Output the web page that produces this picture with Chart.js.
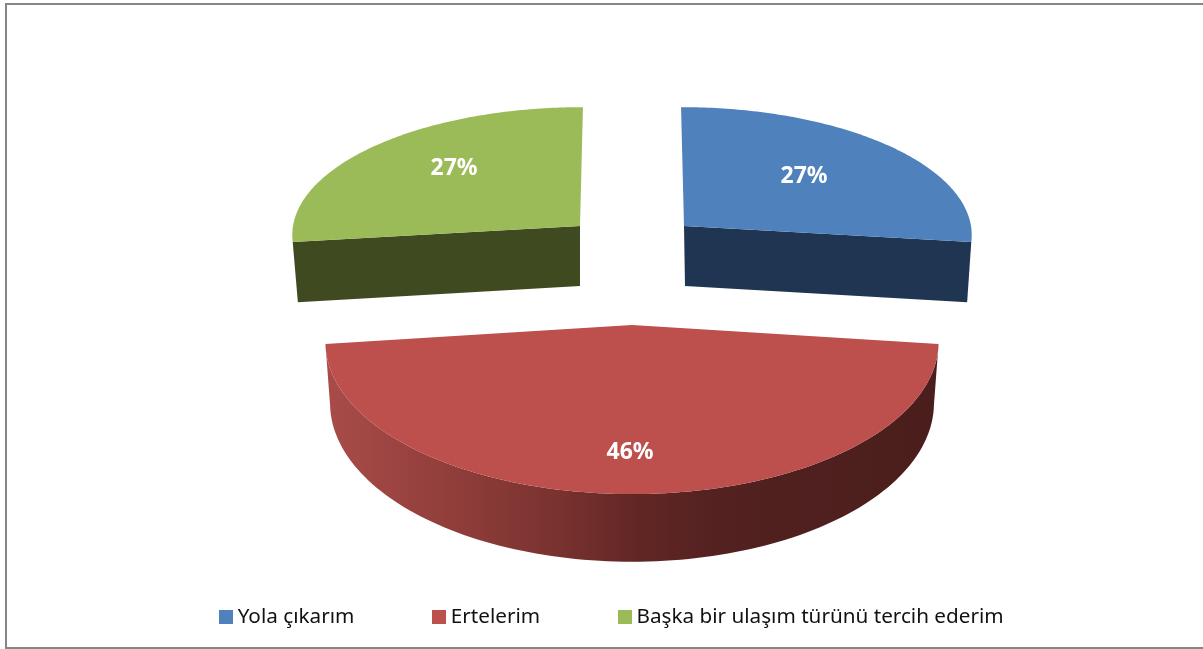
<!DOCTYPE html>
<html>
<head>
<meta charset="utf-8">
<style>html,body{margin:0;padding:0;background:#fff}canvas{display:block}</style>
<script src="https://cdn.jsdelivr.net/npm/chart.js@4/dist/chart.umd.min.js"></script>
</head>
<body>
<canvas id="c" width="1203" height="649"></canvas>
<script>
const categories = ['Yola çıkarım', 'Ertelerim', 'Başka bir ulaşım türünü tercih ederim'];
const seriesValues = [27, 46, 27];
const topColors = ['#4f81bd', '#bd4f4c', '#9bbb59'];
const sideColors = ['#1f3552', null, '#404a20'];

const vanishX = 632;
// projection of each exploded slice: apex on screen, radii, perspective strength, label offset
const sliceViews = [
  {ax: 684, ay: 226, rx: 287, ry: 126, k: 0.06, shrink: 0.982, apexShift: 1, depth: 60, label: [120, -50]},
  {ax: 632, ay: 325, rx: 304.6, ry: 150, k: 0.113, shrink: 0.985, apexShift: 0, depth: 60, label: [-2, 127]},
  {ax: 580, ay: 226, rx: 287, ry: 126, k: 0.06, shrink: 0.982, apexShift: 0, depth: 60, label: [-126, -58]}
];

function project(view, u, v, lower) {
  const w = 1 / (1 - view.k * v);
  const off = view.ax - vanishX + (lower ? view.apexShift : 0);
  const rx = view.rx * (lower ? view.shrink : 1);
  return {
    x: vanishX + (off + rx * u) * w,
    y: view.ay + view.ry * v * w + (lower ? view.depth * w : 0)
  };
}
function rimPoints(view, a0, a1, lower) {
  const pts = [], n = 120;
  for (let i = 0; i <= n; i++) {
    const a = a0 + (a1 - a0) * i / n;
    pts.push(project(view, Math.cos(a), Math.sin(a), lower));
  }
  return pts;
}
function fillPoly(ctx, pts, fill) {
  ctx.beginPath();
  pts.forEach((p, i) => i ? ctx.lineTo(p.x, p.y) : ctx.moveTo(p.x, p.y));
  ctx.closePath();
  ctx.fillStyle = fill;
  ctx.fill();
}

const pie3d = {
  id: 'pie3d',
  afterLayout(chart) {
    // seat the legend row where the reference has it
    const lg = chart.legend;
    lg.top -= 12;
    lg.bottom -= 12;
    lg.left += 13;
    lg.right += 13;
  },
  beforeDraw(chart) {
    const ctx = chart.ctx;
    ctx.save();
    ctx.fillStyle = '#fff';
    ctx.fillRect(0, 0, 1203, 649);
    ctx.strokeStyle = '#868686';
    ctx.lineWidth = 2;
    ctx.beginPath();
    ctx.moveTo(1203, 4);
    ctx.lineTo(6, 4);
    ctx.lineTo(6, 648);
    ctx.lineTo(1203, 648);
    ctx.stroke();
    ctx.restore();
  },
  beforeDatasetsDraw(chart) {
    const ctx = chart.ctx;
    const arcs = chart.getDatasetMeta(0).data;
    ctx.save();
    [0, 2, 1].forEach(i => {
      const arc = arcs[i], view = sliceViews[i];
      const a0 = arc.startAngle, a1 = arc.endAngle;
      const top = rimPoints(view, a0, a1, false);
      if (i === 1) {
        const lowerPts = rimPoints(view, a0, a1, true).reverse();
        const g = ctx.createLinearGradient(325, 0, 938, 0);
        g.addColorStop(0, '#a94c49');
        g.addColorStop(0.2, '#913e3b');
        g.addColorStop(0.37, '#7b3330');
        g.addColorStop(0.5, '#632725');
        g.addColorStop(0.65, '#522120');
        g.addColorStop(1, '#4a1e1c');
        fillPoly(ctx, top.concat(lowerPts), g);
      } else {
        const edge = i === 0 ? a1 : a0;
        const e = Math.cos(edge), f = Math.sin(edge);
        fillPoly(ctx, [project(view, 0, 0, false), project(view, e, f, false),
                       project(view, e, f, true), project(view, 0, 0, true)], sideColors[i]);
      }
      fillPoly(ctx, [project(view, 0, 0, false)].concat(top), arc.options.backgroundColor);
    });
    ctx.restore();
    return false;
  },
  afterDraw(chart) {
    const ctx = chart.ctx;
    const values = chart.data.datasets[0].data;
    const total = values.reduce((s, x) => s + x, 0);
    ctx.save();
    ctx.font = 'bold 23px "Noto Sans"';
    ctx.fillStyle = '#fff';
    ctx.textAlign = 'center';
    ctx.textBaseline = 'middle';
    values.forEach((val, i) => {
      const view = sliceViews[i];
      ctx.fillText(Math.round(val / total * 100) + '%', view.ax + view.label[0], view.ay + view.label[1]);
    });
    ctx.restore();
  }
};

function swatch(color) {
  const s = document.createElement('canvas');
  s.width = 14; s.height = 14;
  const c = s.getContext('2d');
  c.fillStyle = color;
  c.fillRect(0, 0, 14, 14);
  return s;
}

new Chart(document.getElementById('c'), {
  type: 'pie',
  data: {
    labels: categories,
    datasets: [{data: seriesValues, backgroundColor: topColors, borderWidth: 0}]
  },
  plugins: [pie3d],
  options: {
    responsive: false,
    animation: false,
    plugins: {
      tooltip: {enabled: false},
      title: {display: false},
      legend: {
        display: true,
        position: 'bottom',
        labels: {
          usePointStyle: true,
          pointStyleWidth: 2,
          padding: 84,
          color: '#111',
          font: {family: 'Noto Sans', size: 20.7},
          generateLabels(chart) {
            return Chart.overrides.pie.plugins.legend.labels.generateLabels(chart).map((item, i) => {
              item.pointStyle = swatch(topColors[i]);
              item.fontColor = '#111';
              return item;
            });
          }
        }
      }
    }
  }
});
</script>
</body>
</html>
